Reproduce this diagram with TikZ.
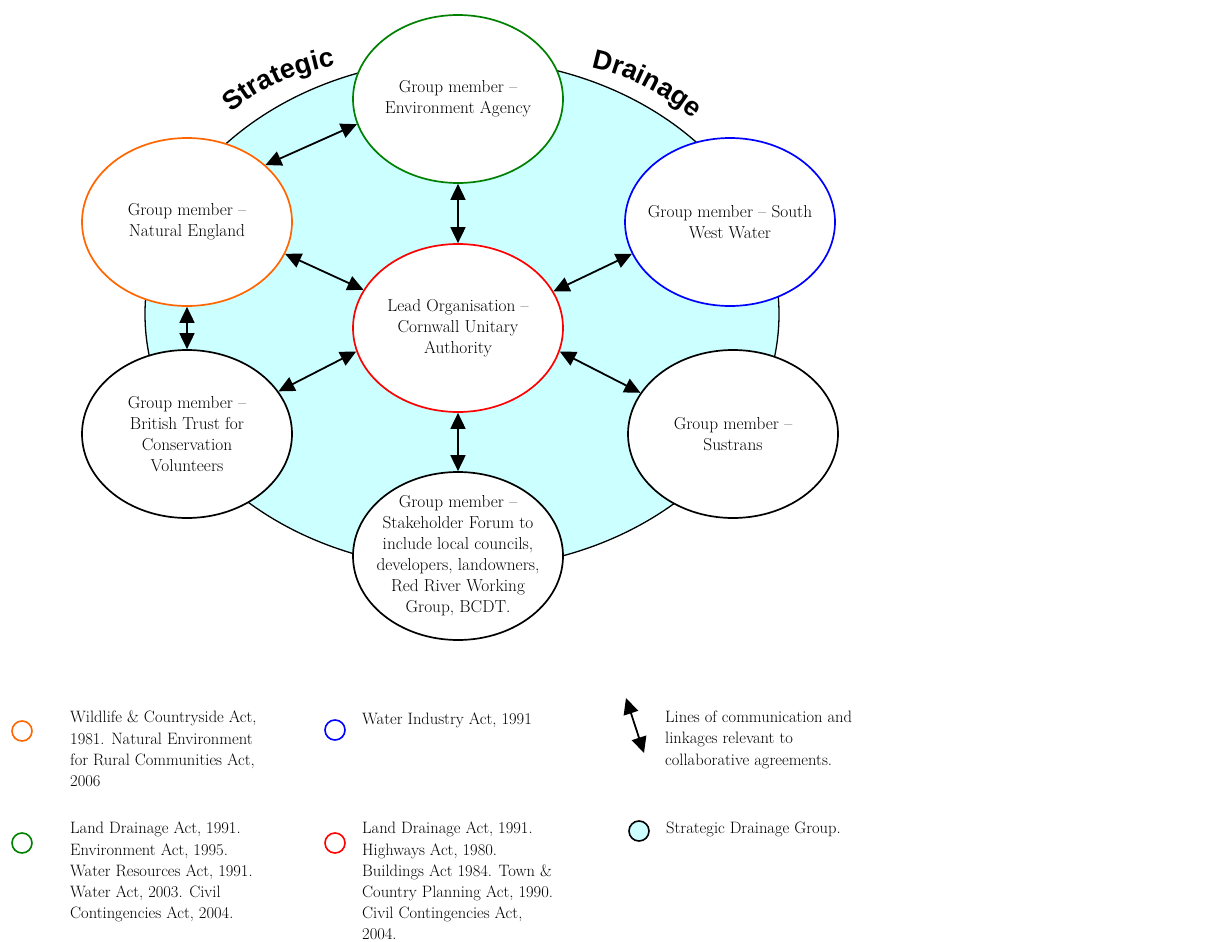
\documentclass[tikz,border=0pt]{standalone}
\usepackage{fontspec}
\setsansfont{Liberation Sans}
\usetikzlibrary{arrows.meta,positioning,shapes.geometric,decorations.text}
\definecolor{sdgcyan}{RGB}{204,255,255}
\definecolor{neorange}{RGB}{255,102,0}
\definecolor{eagreen}{RGB}{0,128,0}

\begin{document}
\begin{tikzpicture}[
    x=1pt, y=-1pt,
    member/.style={ellipse, draw, line width=1.7pt, fill=white, minimum width=210pt, minimum height=168pt, inner sep=-20pt, align=center, font=\fontsize{17.3}{21}\selectfont},
    link/.style={{Triangle[length=16pt,width=15pt]}-{Triangle[length=16pt,width=15pt]}, line width=1.8pt},
    legcirc/.style={circle, draw, line width=1.6pt, minimum size=20pt, inner sep=0pt},
    legtext/.style={anchor=north west, align=left, inner sep=0pt, font=\fontsize{16.5}{21.2}\selectfont},
    arctext/.style={decorate, decoration={text along path, text align=center, text={|\sffamily\bfseries\fontsize{27}{27}\selectfont|#1}}}
]
    \useasboundingbox (0,0) rectangle (1224,942);

    % Strategic Drainage Group
    \node[ellipse, draw, fill=sdgcyan, line width=1.3pt, minimum width=634pt, minimum height=510pt] (sdg) at (462,314) {};
    \path[arctext=Strategic] (222,122) .. controls (254,90) and (296,70) .. (348,64);
    \path[arctext=Drainage] (580,66) .. controls (623,72) and (664,92) .. (702,126);

    % Group members
    \node[member, draw=eagreen] (ea) at (458,99) {Group member --\\Environment Agency};
    \node[member, draw=neorange] (ne) at (187,222) {Group member --\\Natural England};
    \node[member, draw=blue] (sww) at (730,222) {Group member -- South\\West Water};
    \node[member, draw=red] (lead) at (458,328) {Lead Organisation --\\Cornwall Unitary\\Authority};
    \node[member] (btcv) at (187,434) {Group member --\\British Trust for\\Conservation\\Volunteers};
    \node[member] (sus) at (733,434) {Group member --\\Sustrans};
    \node[member] (forum) at (458,556) {Group member --\\Stakeholder Forum to\\include local councils,\\developers, landowners,\\Red River Working\\Group, BCDT.};

    % Lines of communication
    \draw[link] (ne.36) -- (ea.194);
    \draw[link] (ne.-18) -- (lead.158);
    \draw[link] (ne.south) -- (btcv.north);
    \draw[link] (btcv.25) -- (lead.193);
    \draw[link] (ea.south) -- (lead.north);
    \draw[link] (lead.21) -- (sww.198);
    \draw[link] (lead.-13) -- (sus.156);
    \draw[link] (lead.south) -- (forum.north);

    % Legend
    \node[legcirc, draw=neorange] (lgne) at (22,731) {};
    \node[legtext] (txne) at (70,711) {Wildlife \& Countryside Act,\\1981. Natural Environment\\for Rural Communities Act,\\2006};
    \node[legcirc, draw=blue] (lgsww) at (335,730) {};
    \node[legtext] (txsww) at (362,713) {Water Industry Act, 1991};
    \coordinate (lgtop) at (626,698);
    \coordinate (lgbot) at (644,753);
    \draw[link] (lgtop) -- (lgbot);
    \node[legtext] (txlink) at (665,711) {Lines of communication and\\linkages relevant to\\collaborative agreements.};
    \node[legcirc, draw=eagreen] (lgea) at (22,843) {};
    \node[legtext] (txea) at (70,822) {Land Drainage Act, 1991.\\Environment Act, 1995.\\Water Resources Act, 1991.\\Water Act, 2003. Civil\\Contingencies Act, 2004.};
    \node[legcirc, draw=red] (lglead) at (335,843) {};
    \node[legtext] (txlead) at (362,822) {Land Drainage Act, 1991.\\Highways Act, 1980.\\Buildings Act 1984. Town \&\\Country Planning Act, 1990.\\Civil Contingencies Act,\\2004.};
    \node[legcirc, fill=sdgcyan] (lgsdg) at (639,831) {};
    \node[legtext] (txsdg) at (666,822) {Strategic Drainage Group.};
\end{tikzpicture}
\end{document}
